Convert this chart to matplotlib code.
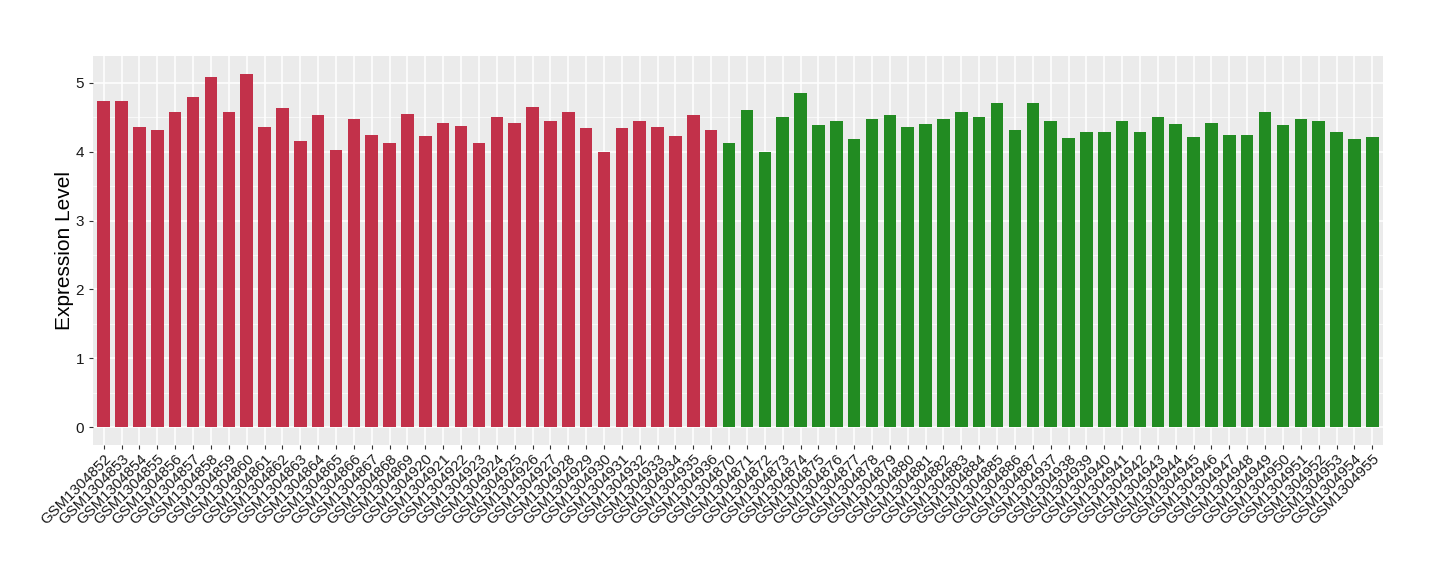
import matplotlib
matplotlib.use("Agg")
import matplotlib.pyplot as plt
import numpy as np

plt.rcParams['font.family'] = ['Liberation Sans', 'DejaVu Sans']

red_samples = ["GSM13048%d" % i for i in range(52, 70)] + ["GSM13049%d" % i for i in range(20, 37)]
green_samples = ["GSM13048%d" % i for i in range(70, 88)] + ["GSM13049%d" % i for i in range(37, 56)]

red_values = [4.74, 4.74, 4.36, 4.31, 4.58, 4.80, 5.09, 4.57, 5.13, 4.36,
              4.63, 4.15, 4.54, 4.03, 4.48, 4.25, 4.13, 4.55, 4.23, 4.42,
              4.38, 4.13, 4.51, 4.42, 4.65, 4.45, 4.58, 4.35, 3.99, 4.35,
              4.45, 4.36, 4.23, 4.54, 4.31]
green_values = [4.12, 4.61, 3.99, 4.50, 4.86, 4.39, 4.45, 4.19, 4.48, 4.54,
                4.36, 4.41, 4.48, 4.57, 4.50, 4.71, 4.32, 4.71, 4.45, 4.20,
                4.28, 4.28, 4.45, 4.29, 4.51, 4.41, 4.22, 4.42, 4.25, 4.25,
                4.57, 4.39, 4.47, 4.44, 4.28, 4.19, 4.22]

red_color = "#C2314A"
green_color = "#228B22"

labels = red_samples + green_samples
values = red_values + green_values
colors = [red_color] * len(red_values) + [green_color] * len(green_values)
x = np.arange(len(labels))

fig = plt.figure(figsize=(14.4, 5.8), dpi=100)
ax = fig.add_axes([0.0646, 0.233, 0.8958, 0.670])
ax.set_facecolor("#EBEBEB")
ax.bar(x, values, width=0.7, color=colors, zorder=3)

ax.set_xlim(-0.6, len(labels) - 0.4)
ymax = max(values)
ax.set_ylim(-0.05 * ymax, ymax * 1.05)
ax.set_yticks([0, 1, 2, 3, 4, 5])
ax.set_yticks(np.arange(0.5, 5.5, 1.0), minor=True)
ax.set_xticks(x)
ax.set_xticklabels(labels, rotation=45, ha='right', va='top', rotation_mode='anchor', fontsize=10.8)
ax.tick_params(axis='y', labelsize=11, length=3, color="#333333", labelcolor="#1A1A1A")
ax.tick_params(axis='x', length=3, color="#333333", labelcolor="#1A1A1A", pad=2)
ax.tick_params(axis='y', which='minor', length=0)
ax.grid(True, which='major', color='white', linewidth=1.1, zorder=0)
ax.grid(True, which='minor', axis='y', color='white', linewidth=0.5, zorder=0)
ax.set_axisbelow(True)
for s in ax.spines.values():
    s.set_visible(False)
ax.set_ylabel("Expression Level", fontsize=15, labelpad=1)

fig.savefig("out.png", dpi=100)
